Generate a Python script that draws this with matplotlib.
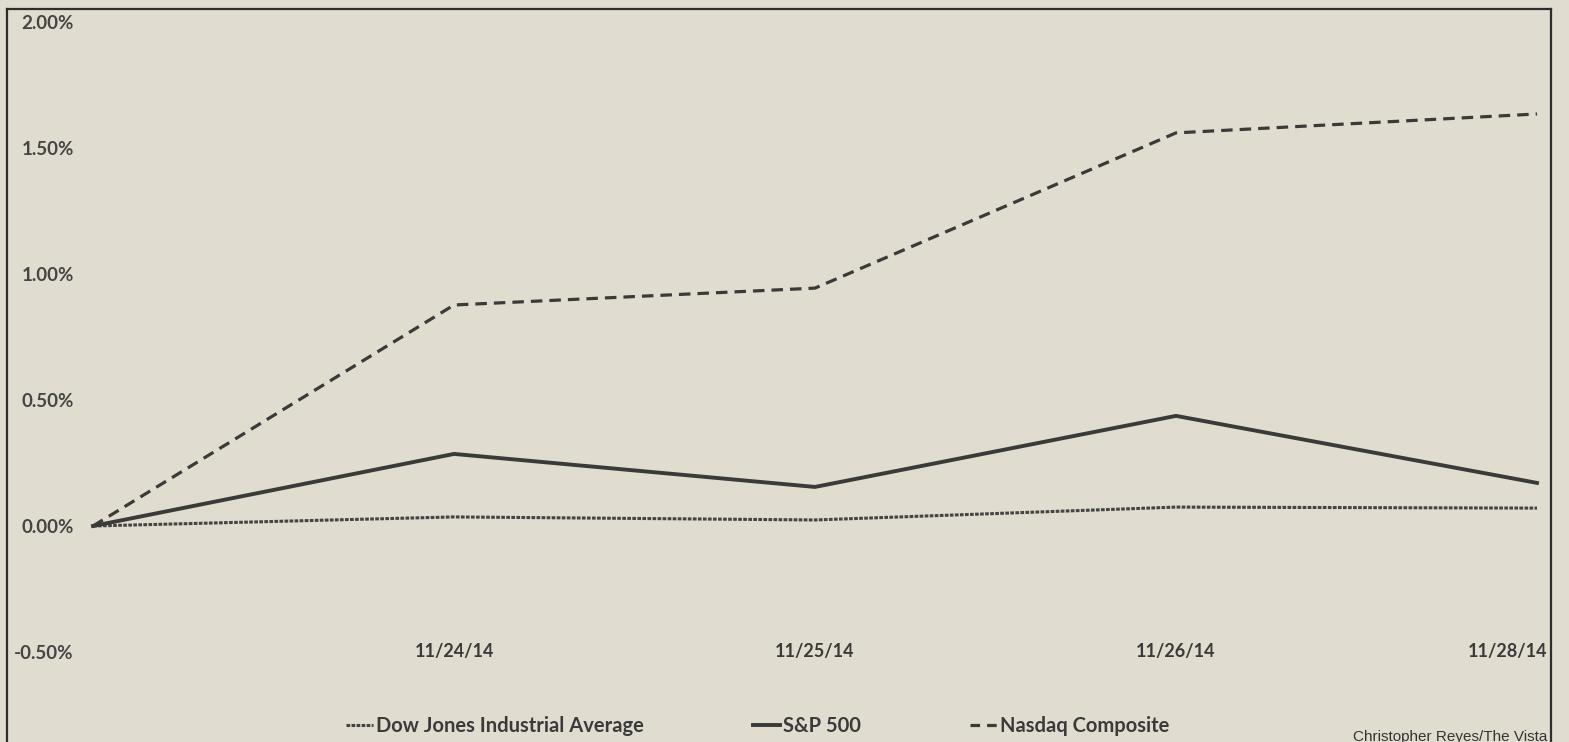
import matplotlib
matplotlib.use("Agg")
import matplotlib.pyplot as plt
from matplotlib.lines import Line2D

# ---- data (cumulative % change since 11/21/14 close) ----
categories = ["", "11/24/14", "11/25/14", "11/26/14", "11/28/14"]
dow = [0.0, 0.036, 0.024, 0.075, 0.071]
sp500 = [0.0, 0.286, 0.155, 0.437, 0.171]
nasdaq = [0.0, 0.877, 0.944, 1.560, 1.635]
ytick_values = [2.0, 1.5, 1.0, 0.5, 0.0, -0.5]
ytick_labels = ["2.00%", "1.50%", "1.00%", "0.50%", "0.00%", "-0.50%"]
series_names = ["Dow Jones Industrial Average", "S&P 500", "Nasdaq Composite"]
credit = "Christopher Reyes/The Vista"

W, H = 1569, 742
BG = "#e0dccf"
INK = "#3a3a3a"
FONT = ["Lato", "DejaVu Sans"]

fig = plt.figure(figsize=(W / 100, H / 100), dpi=100, facecolor=BG)
ax = fig.add_axes([7 / W, 0, (1551 - 7) / W, (H - 9) / H])
ax.set_facecolor(BG)

x = list(range(len(categories)))
ax.plot(x, dow, color="#444444", lw=2.2, ls=(0, (1.2, 0.45)), label=series_names[0])
ax.plot(x, sp500, color=INK, lw=2.8, ls="-", solid_joinstyle="miter", label=series_names[1])
ax.plot(x, nasdaq, color=INK, lw=2.3, ls=(0, (3.6, 2.2)), label=series_names[2])

# scales: 361 px per category, 252 px per 1 %
ax.set_xlim(-(93 - 7) / 361, 4 + (1551 - 1537) / 361)
ax.set_ylim((526 - H) / 252, (526 - 9) / 252)

for side in ["left", "top", "right"]:
    ax.spines[side].set_linewidth(1.6)
    ax.spines[side].set_color("#2e2e2e")
ax.spines["bottom"].set_visible(False)

ax.set_yticks(ytick_values, ytick_labels)
ax.tick_params(axis="y", length=0, pad=-48, labelsize=13.5, labelcolor="#454545")
for lab in ax.get_yticklabels():
    lab.set_fontfamily(FONT)
    lab.set_fontweight("bold")
ax.set_xticks([])

# category labels along the -0.50% level
for i, c in enumerate(categories):
    if not c:
        continue
    if i == len(categories) - 1:
        ax.text(i + 10 / 361, -0.5, c, ha="right", va="center", fontsize=13,
                fontweight="bold", color="#3a3a3a", family=FONT)
    else:
        ax.text(i, -0.5, c, ha="center", va="center", fontsize=13,
                fontweight="bold", color="#3a3a3a", family=FONT)

handles = [
    Line2D([], [], color="#444444", lw=2.2, ls=(0, (1.2, 0.45))),
    Line2D([], [], color=INK, lw=2.8, ls="-"),
    Line2D([], [], color=INK, lw=2.3, ls=(0, (3.0, 2.2))),
]
leg = fig.legend(handles, series_names, loc="center left",
                 bbox_to_anchor=(328 / W, 1 - 726 / H), ncol=3, frameon=False,
                 handlelength=1.35, handletextpad=0.15, columnspacing=5.4,
                 prop={"family": FONT, "size": 14.5, "weight": "bold"})
for t in leg.get_texts():
    t.set_color("#3a3a3a")

fig.text(1547 / W, 1 - 737 / H, credit, ha="right", va="center", fontsize=11,
         color="#333333", family=["Liberation Sans", "DejaVu Sans"])

fig.savefig("out.png", dpi=100, facecolor=BG)
